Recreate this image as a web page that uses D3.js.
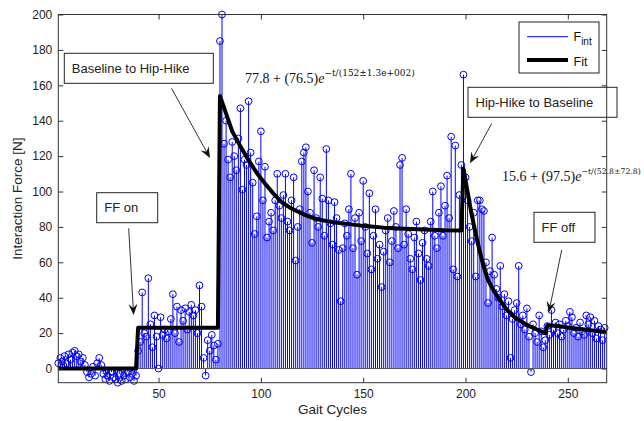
<!DOCTYPE html>
<html><head><meta charset="utf-8">
<script src="https://cdn.jsdelivr.net/npm/d3@7"></script>
<style>body{margin:0;background:#fff}svg{display:block}</style>
</head><body>
<svg id="c" width="644" height="421"></svg>
<script>
// ---- data ----
const values = [
  // 1-14
  3, 6, 4, 7, 3, 8, 5, 9, 10, 7, 8, 4, 6, 2,
  // 15-40
  -2, -5, -3, 1, -4, 3, 6, 2, -3, -6, -4, -7, -2, -5, -6, -8, -3, -7, -4, -6, -2, -5, -3, -7, -4, 10,
  // 41-79
  15, 43, 20, 18, 51, 25, 12, 30, 18, 0, 29, 19, 22, 17, 21, 28, 42, 20, 35, 15,
  33, 27, 34, 22, 32, 36, 30, 33, 20, 47, 35, 6, -4, 16, 10, 19, 13, 5, 14,
  // 80-199
  185, 200, 127, 140, 118, 108, 128, 120, 112, 130, 147, 101, 118, 115, 151, 122, 105, 76, 86, 117,
  134, 95, 114, 74, 83, 88, 78, 95, 110, 92, 85, 98, 110, 83, 78, 95, 108, 61, 80, 90,
  117, 122, 125, 100, 88, 71, 112, 85, 80, 108, 96, 75, 124, 95, 82, 70, 94, 85, 67, 38,
  68, 82, 75, 90, 110, 68, 85, 53, 88, 72, 106, 80, 65, 99, 56, 75, 90, 62, 70, 46,
  66, 78, 85, 60, 72, 89, 80, 68, 115, 119, 70, 90, 76, 62, 56, 74, 83, 65, 50, 71,
  78, 62, 58, 83, 100, 75, 68, 88, 103, 75, 92, 109, 85, 131, 56, 126, 52, 98, 115, 166,
  // 200-269
  108, 95, 80, 72, 88, 52, 95, 95, 90, 89, 60, 37, 55, 74, 53, 45, 40, 58, 35, 42,
  30, 38, 6, 28, 33, 37, 58, 25, 30, 22, 34, 18, -2, 25, 20, 15, 30, 21, 12, 16,
  24, 19, 33, 22, 26, 20, 25, 18, 22, 27, 24, 32, 29, 20, 23, 18, 26, 21, 19, 30,
  25, 29, 20, 27, 17, 24, 22, 16, 23
];
const fitX = [1, 39, 40, 79, 80, 83, 86, 90, 94, 98, 102, 106, 110, 114, 118, 122, 126, 130, 135, 140,
  150, 160, 170, 180, 190, 198, 199, 201, 203, 205, 207, 209, 211, 213, 216, 220, 224, 228, 232, 236,
  239, 240, 245, 250, 256, 262, 269];
const fitY = [0, 0, 23, 23, 154, 144, 134, 125.5, 117.7, 110.5, 104.5, 99, 94.2, 91, 88.7, 86.5, 84.9, 83.8, 82.7, 82,
  80.6, 79.6, 79, 78.5, 78.1, 78, 113, 100, 87, 76, 66, 57, 50, 45.5, 40, 33.5, 29, 26, 23.5, 21.5,
  20, 24.5, 24, 23.2, 22.3, 21.5, 20.5];
const xTicks = [50, 100, 150, 200, 250];
const yTicks = [0, 20, 40, 60, 80, 100, 120, 140, 160, 180, 200];
const xLabel = "Gait Cycles";
const yLabel = "Interaction Force [N]";
const legendNames = ["F", "Fit"];
const annotationTexts = ["Baseline to Hip-Hike", "FF on", "Hip-Hike to Baseline", "FF off"];
const eq1 = ["77.8 + (76.5)", "e", "\u2212t/(152\u00b11.3e+002)"];
const eq2 = ["15.6 + (97.5)", "e", "\u2212t/(52.8\u00b172.8)"];

// ---- layout ----
const svg = d3.select('#c');
const L = 58.3, R = 606.7, T = 14.5, B = 382.7;
const x = d3.scaleLinear().domain([1, 269]).range([L, R]);
const y = d3.scaleLinear().domain([-8, 200]).range([B, T]);
const sans = "'Liberation Sans', Arial, sans-serif";
const axisCol = "#333";

// stems
const gS = svg.append('g');
gS.selectAll('line').data(values).join('line')
  .attr('x1', (d, i) => x(i + 1)).attr('x2', (d, i) => x(i + 1))
  .attr('y1', y(0)).attr('y2', d => y(d))
  .attr('stroke', '#0000ff').attr('stroke-width', 1);
// baseline
svg.append('line').attr('x1', L).attr('x2', R).attr('y1', y(0)).attr('y2', y(0))
  .attr('stroke', '#555').attr('stroke-width', 1);
gS.selectAll('circle').data(values).join('circle')
  .attr('cx', (d, i) => x(i + 1)).attr('cy', d => y(d)).attr('r', 3.4)
  .attr('fill', 'none').attr('stroke', '#0000ff').attr('stroke-width', 1);

// fit
const fitData = fitX.map((v, i) => [v, fitY[i]]);
svg.append('path').datum(fitData)
  .attr('d', d3.line().x(d => x(d[0])).y(d => y(d[1])))
  .attr('fill', 'none').attr('stroke', '#000').attr('stroke-width', 4)
  .attr('stroke-linejoin', 'round');

// axes
function styleAxis(g, labels) {
  g.select('.domain').remove();
  g.selectAll('.tick line').attr('stroke', axisCol);
  g.selectAll('.tick text').attr('font-family', sans).attr('font-size', 12).attr('fill', '#222');
  if (!labels) g.selectAll('.tick text').remove();
}
svg.append('g').attr('transform', `translate(0,${B})`)
  .call(d3.axisBottom(x).tickValues(xTicks).tickSize(-5).tickPadding(7)).call(g => styleAxis(g, true));
svg.append('g').attr('transform', `translate(0,${T})`)
  .call(d3.axisTop(x).tickValues(xTicks).tickSize(-5)).call(g => styleAxis(g, false));
svg.append('g').attr('transform', `translate(${L},0)`)
  .call(d3.axisLeft(y).tickValues(yTicks).tickSize(-5).tickPadding(6)).call(g => styleAxis(g, true));
svg.append('g').attr('transform', `translate(${R},0)`)
  .call(d3.axisRight(y).tickValues(yTicks).tickSize(-5)).call(g => styleAxis(g, false));
svg.append('rect').attr('x', L).attr('y', T).attr('width', R - L).attr('height', B - T)
  .attr('fill', 'none').attr('stroke', axisCol).attr('stroke-width', 1);

// axis labels
svg.append('text').attr('x', (L + R) / 2).attr('y', 414).attr('text-anchor', 'middle')
  .attr('font-family', sans).attr('font-size', 13.5).attr('fill', '#222').text(xLabel);
svg.append('text').attr('transform', `translate(22,${(T + B) / 2}) rotate(-90)`).attr('text-anchor', 'middle')
  .attr('font-family', sans).attr('font-size', 13.5).attr('fill', '#222').text(yLabel);

// legend
const lg = svg.append('g');
lg.append('rect').attr('x', 519).attr('y', 22).attr('width', 80).attr('height', 51)
  .attr('fill', '#fff').attr('stroke', '#222').attr('stroke-width', 1);
lg.append('line').attr('x1', 527).attr('x2', 568).attr('y1', 36.7).attr('y2', 36.7)
  .attr('stroke', '#0000ff').attr('stroke-width', 1);
lg.append('line').attr('x1', 527).attr('x2', 568).attr('y1', 60).attr('y2', 60)
  .attr('stroke', '#000').attr('stroke-width', 4);
const t1 = lg.append('text').attr('x', 573.5).attr('y', 40.5).attr('font-family', sans)
  .attr('font-size', 12.5).attr('fill', '#111');
t1.append('tspan').text(legendNames[0]);
t1.append('tspan').attr('font-size', 10).attr('dy', 4.5).text('int');
lg.append('text').attr('x', 573.5).attr('y', 66).attr('font-family', sans)
  .attr('font-size', 12.5).attr('fill', '#111').text(legendNames[1]);

// annotations
const annLayout = [
  {box: [64.3, 53.3, 149, 30], from: [171.5, 88.3], to: [210, 158]},
  {box: [96.7, 192.7, 61, 30], from: [128.7, 228.3], to: [133.6, 315]},
  {box: [468, 87.3, 149, 30], from: [491.7, 123.5], to: [470, 163.3]},
  {box: [534, 212.3, 61, 30], from: [561.7, 250], to: [548.8, 312.5]}
];
const ag = svg.append('g');
annLayout.forEach((a, i) => {
  const [bx, by, bw, bh] = a.box;
  ag.append('rect').attr('x', bx).attr('y', by).attr('width', bw).attr('height', bh)
    .attr('fill', 'none').attr('stroke', '#222').attr('stroke-width', 1);
  ag.append('text').attr('x', bx + 7.5).attr('y', by + 19.5).attr('font-family', sans)
    .attr('font-size', 13).attr('fill', '#222').text(annotationTexts[i]);
  const [x1, y1] = a.from, [x2, y2] = a.to;
  const dx = x2 - x1, dy = y2 - y1, len = Math.hypot(dx, dy);
  const ux = dx / len, uy = dy / len, px = -uy, py = ux;
  const HL = 11, HW = 4.5, N = 7;
  ag.append('line').attr('x1', x1).attr('y1', y1)
    .attr('x2', x2 - ux * N).attr('y2', y2 - uy * N)
    .attr('stroke', '#333').attr('stroke-width', 1);
  const pts = [
    [x2, y2],
    [x2 - ux * HL + px * HW, y2 - uy * HL + py * HW],
    [x2 - ux * N, y2 - uy * N],
    [x2 - ux * HL - px * HW, y2 - uy * HL - py * HW]
  ];
  ag.append('path').attr('d', 'M' + pts.map(p => p.join(',')).join('L') + 'Z').attr('fill', '#111');
});

// equations
function eq(parts, x0, y0, maxRight) {
  const t = svg.append('text').attr('x', x0).attr('y', y0)
    .attr('font-family', "'Liberation Serif', 'Times New Roman', serif").attr('font-size', 14).attr('fill', '#111');
  t.append('tspan').text(parts[0]);
  t.append('tspan').attr('font-style', 'italic').text(parts[1]);
  const sup = t.append('tspan').attr('dy', -6.7).attr('font-size', 9)
    .attr('font-family', "'DejaVu Serif', serif").text(parts[2]);
  if (maxRight) {
    let fs = 9;
    let bb = t.node().getBBox();
    while (bb.x + bb.width > maxRight && fs > 6) {
      fs -= 0.25;
      sup.attr('font-size', fs);
      bb = t.node().getBBox();
    }
  }
}
eq(eq1, 245, 82.7);
eq(eq2, 502, 180.7, 641);
</script>
</body></html>
